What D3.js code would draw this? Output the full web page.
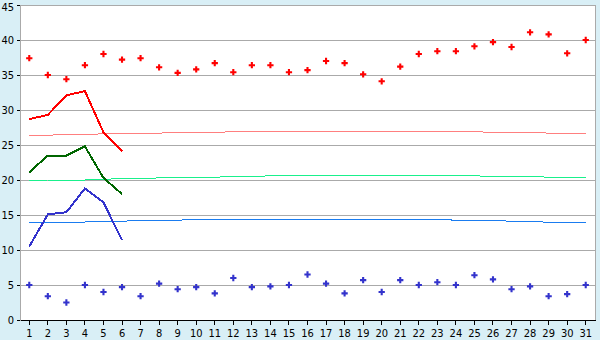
<!DOCTYPE html>
<html>
<head>
<meta charset="utf-8">
<script src="https://cdn.jsdelivr.net/npm/d3@7"></script>
<style>
  body { margin: 0; background: #d9eff6; }
  svg { display: block; }
  text { font-family: "DejaVu Sans Condensed", "DejaVu Sans", sans-serif; font-size: 11px; fill: #000; }
</style>
</head>
<body>
<div id="chart"></div>
<script>
// days of the month
var days = d3.range(1, 32);

// record highs and lows (points)
var recordMax = [37.4, 35.0, 34.4, 36.4, 38.0, 37.2, 37.4, 36.1, 35.3, 35.8,
  36.7, 35.4, 36.4, 36.4, 35.4, 35.7, 37.0, 36.7, 35.1, 34.1,
  36.2, 38.0, 38.4, 38.4, 39.1, 39.7, 39.0, 41.1, 40.8, 38.1, 40.0];
var recordMin = [5.0, 3.4, 2.5, 5.0, 4.0, 4.7, 3.4, 5.2, 4.4, 4.7,
  3.8, 6.0, 4.7, 4.8, 5.0, 6.5, 5.2, 3.8, 5.7, 4.0,
  5.7, 5.0, 5.4, 5.0, 6.4, 5.8, 4.4, 4.8, 3.4, 3.7, 5.0];

// averages (thin lines)
var avgMax = [26.4, 26.4, 26.5, 26.5, 26.6, 26.7, 26.7, 26.7, 26.8, 26.8,
  26.8, 26.9, 26.9, 26.9, 26.9, 26.9, 26.9, 26.9, 26.9, 26.9,
  26.9, 26.9, 26.9, 26.9, 26.9, 26.8, 26.8, 26.8, 26.7, 26.7, 26.7];
var avgMean = [19.9, 20.0, 20.0, 20.0, 20.1, 20.2, 20.2, 20.3, 20.4, 20.4,
  20.4, 20.5, 20.5, 20.6, 20.6, 20.6, 20.6, 20.6, 20.6, 20.6,
  20.6, 20.6, 20.6, 20.6, 20.6, 20.5, 20.5, 20.5, 20.4, 20.4, 20.4];
var avgMin = [14.0, 14.0, 14.0, 14.0, 14.1, 14.1, 14.25, 14.25, 14.25, 14.4,
  14.4, 14.4, 14.4, 14.4, 14.4, 14.4, 14.4, 14.4, 14.4, 14.4,
  14.4, 14.4, 14.4, 14.25, 14.25, 14.25, 14.1, 14.1, 13.95, 13.95, 13.95];

// this month so far (thick lines)
var curMax = [28.7, 29.3, 32.1, 32.7, 26.8, 24.1];
var curMean = [21.1, 23.5, 23.5, 24.8, 20.3, 18.0];
var curMin = [10.5, 15.1, 15.4, 18.8, 16.8, 11.4];

var yTicks = [0, 5, 10, 15, 20, 25, 30, 35, 40, 45];

var W = 600, H = 340;
var margin = { top: 5, right: 5, bottom: 20, left: 20 };
var width = W - margin.left - margin.right,
  height = H - margin.top - margin.bottom;

var svg = d3.select("#chart").append("svg")
  .attr("width", W)
  .attr("height", H);

var g = svg.append("g")
  .attr("transform", "translate(" + margin.left + "," + margin.top + ")");

var x = d3.scaleBand().domain(days).range([0, width]);
var y = d3.scaleLinear().domain([0, 45]).range([height, 0]);
function cx(d) { return x(d) + x.bandwidth() / 2; }

// plot background
g.append("rect")
  .attr("width", width)
  .attr("height", height)
  .attr("fill", "#fff")
  .attr("stroke", "#aaa")
  .attr("shape-rendering", "crispEdges");

// gridlines
g.selectAll(".grid")
  .data(yTicks.slice(1))
  .enter().append("line")
  .attr("x1", 0).attr("x2", width)
  .attr("y1", function (d) { return Math.round(y(d)) + 0.5; })
  .attr("y2", function (d) { return Math.round(y(d)) + 0.5; })
  .attr("stroke", "#aaa")
  .attr("shape-rendering", "crispEdges");

// y axis
var yAxis = g.append("g")
  .call(d3.axisLeft(y).tickValues(yTicks).tickSize(3).tickPadding(3));
yAxis.select(".domain").attr("stroke", "#aaa");
yAxis.selectAll("line").attr("stroke", "#000");
yAxis.selectAll("text").style("font-size", "11px");
// top label pushed down so it stays inside the picture
yAxis.selectAll("text").filter(function (d) { return d === 45; }).attr("y", 2);
yAxis.attr("shape-rendering", "crispEdges");

// x axis
var xAxis = g.append("g")
  .attr("transform", "translate(0," + height + ")")
  .call(d3.axisBottom(x).tickSize(5).tickSizeOuter(0).tickPadding(4));
xAxis.select(".domain").attr("stroke", "#000");
xAxis.selectAll("line").attr("stroke", "#000");
xAxis.selectAll("text").style("font-size", "11px");
xAxis.attr("shape-rendering", "crispEdges");

var line = d3.line()
  .x(function (d, i) { return cx(days[i]); })
  .y(function (d) { return y(d); });

function drawLine(data, color, w) {
  g.append("path")
    .datum(data)
    .attr("fill", "none")
    .attr("stroke", color)
    .attr("stroke-width", w)
    .attr("shape-rendering", "crispEdges")
    .attr("d", line);
}

drawLine(avgMax, "#ff7f7f", 1);
drawLine(avgMean, "#19f08c", 1);
drawLine(avgMin, "#1a7cf0", 1);
drawLine(curMax, "#ff0000", 2);
drawLine(curMean, "#006600", 2);
drawLine(curMin, "#3333cc", 2);

function drawPoints(data, color) {
  g.selectAll(null)
    .data(data)
    .enter().append("path")
    .attr("transform", function (d, i) {
      return "translate(" + cx(days[i]) + "," + y(d) + ")";
    })
    .attr("d", d3.symbol().type(d3.symbolCross).size(22))
    .attr("fill", color);
}

drawPoints(recordMax, "#ff0000");
drawPoints(recordMin, "#3333cc");
</script>
</body>
</html>
